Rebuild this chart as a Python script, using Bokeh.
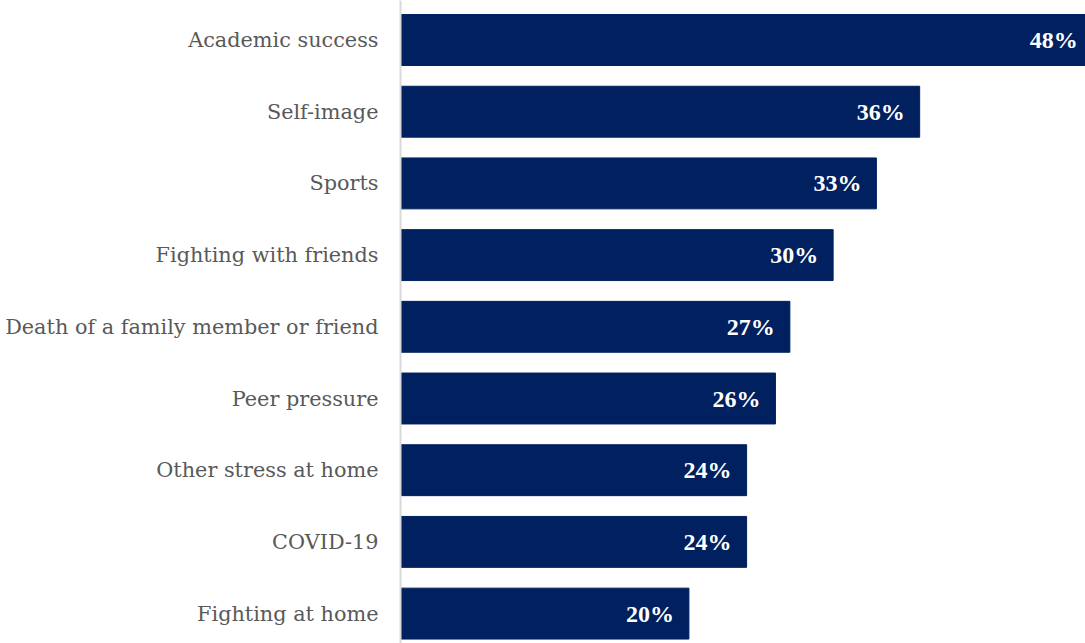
from bokeh.plotting import figure
from bokeh.models import Range1d, ColumnDataSource, FixedTicker, LabelSet
from bokeh.embed import file_html
from bokeh.resources import INLINE

categories = ["Academic success", "Self-image", "Sports", "Fighting with friends",
              "Death of a family member or friend", "Peer pressure",
              "Other stress at home", "COVID-19", "Fighting at home"]
values = [48, 36, 33, 30, 27, 26, 24, 24, 20]
value_labels = [f"{v}%" for v in values]

ypos = list(range(len(categories)))
src = ColumnDataSource(dict(y=ypos, v=values, lab=value_labels))

p = figure(width=1085, height=643, output_backend="svg", toolbar_location=None,
           x_range=Range1d(0, 47.5), y_range=Range1d(8.417, -0.551),
           min_border_left=400, min_border_right=0, min_border_top=0, min_border_bottom=0)
p.hbar(y="y", right="v", left=0, height=0.71, color="#00205f", source=src)
p.add_layout(LabelSet(x="v", y="y", text="lab", source=src, x_offset=-15,
                      text_align="right", text_baseline="middle",
                      text_color="white", text_font="DejaVu Serif",
                      text_font_style="bold", text_font_size="24px"))

p.xaxis.visible = False
p.yaxis.ticker = FixedTicker(ticks=ypos)
p.yaxis.major_label_overrides = {i: c for i, c in enumerate(categories)}
p.yaxis.major_tick_line_color = None
p.yaxis.minor_tick_line_color = None
p.yaxis.axis_line_color = "#d9d9d9"
p.yaxis.axis_line_width = 2
p.yaxis.major_label_standoff = 16
p.yaxis.major_label_text_font = "DejaVu Serif"
p.yaxis.major_label_text_font_size = "20.8px"
p.yaxis.major_label_text_color = "#595959"
p.grid.visible = False
p.outline_line_color = None
p.background_fill_color = "white"
p.border_fill_color = "white"

open("out.html", "w").write(file_html(p, INLINE))
